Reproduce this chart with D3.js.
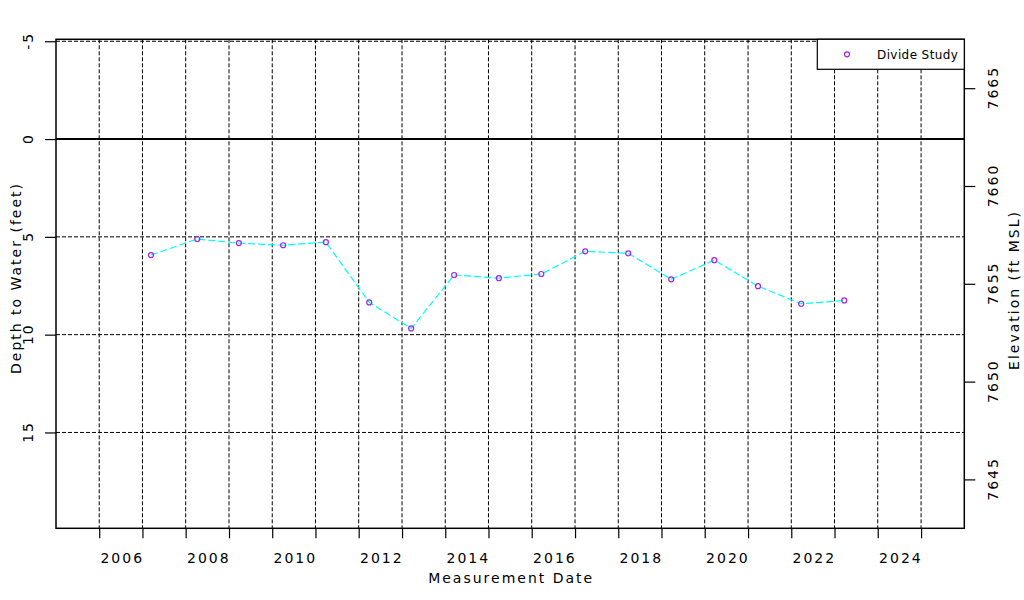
<!doctype html>
<html>
<head>
    <meta charset="utf-8">
    <style>
        body { margin: 0; background: #fff; }
        svg text {
            font-family: "DejaVu Sans", sans-serif;
            font-size: 14px;
            letter-spacing: 2px;
            fill: #000;
        }
        .grid line {
            stroke: #000;
            stroke-width: 1;
            stroke-dasharray: 4,2;
        }
        .axis path { display: none; }
        .axis line { stroke: #000; stroke-width: 1.2; }
    </style>
    <script src="https://d3js.org/d3.v7.min.js"></script>
</head>
<body>
<svg width="1024" height="600"></svg>
<script>

    var sampleDates = ["2007-03-14", "2008-04-08", "2009-03-25", "2010-04-03", "2011-03-30",
                       "2012-03-30", "2013-03-19", "2014-03-17", "2015-03-30", "2016-03-22",
                       "2017-03-28", "2018-03-26", "2019-03-24", "2020-03-22", "2021-03-26",
                       "2022-03-26", "2023-03-24"];
    var depthToWater = [5.93, 5.11, 5.32, 5.43, 5.27, 8.35, 9.68, 6.95, 7.11, 6.90,
                        5.74, 5.84, 7.17, 6.19, 7.52, 8.42, 8.25];
    var depthTicks = [-5, 0, 5, 10, 15];
    var gridDepths = [-5, 5, 10, 15];
    var elevTicks = [7645, 7650, 7655, 7660, 7665];
    var yearLabels = [2006, 2008, 2010, 2012, 2014, 2016, 2018, 2020, 2022, 2024];
    var gridYears = d3.range(2006, 2026);
    var landSurface = 7662.4;
    var seriesName = "Divide Study";

    var svg = d3.select("svg"),
        plotLeft = 56, plotRight = 964.3,
        plotTop = 39.3, plotBottom = 528.3;

    var x = d3.scaleTime()
              .domain([new Date(2005, 0, 1), new Date(2026, 0, 1)])
              .range([plotLeft, plotRight]);
    var y = d3.scaleLinear().domain([-5.1, 19.9]).range([plotTop, plotBottom]);
    var yElev = d3.scaleLinear()
                  .domain([landSurface + 5.1, landSurface - 19.9])
                  .range([plotTop, plotBottom]);

    var parse = d3.timeParse("%Y-%m-%d");
    var data = sampleDates.map(function(d, i) {
        return { date: parse(d), depth: depthToWater[i] };
    });

    // grid
    var grid = svg.append("g").attr("class", "grid");
    grid.selectAll(".vx")
        .data(gridYears)
        .enter().append("line")
        .attr("x1", function(d) { return x(new Date(d, 0, 1)); })
        .attr("x2", function(d) { return x(new Date(d, 0, 1)); })
        .attr("y1", plotTop)
        .attr("y2", plotBottom);
    grid.selectAll(".hy")
        .data(gridDepths)
        .enter().append("line")
        .attr("x1", plotLeft)
        .attr("x2", plotRight)
        .attr("y1", function(d) { return y(d); })
        .attr("y2", function(d) { return y(d); });

    // zero line
    svg.append("line")
       .attr("x1", plotLeft).attr("x2", plotRight)
       .attr("y1", y(0)).attr("y2", y(0))
       .attr("stroke", "#000")
       .attr("stroke-width", 2);

    // series
    var line = d3.line()
                 .x(function(d) { return x(d.date); })
                 .y(function(d) { return y(d.depth); });

    svg.append("path")
       .datum(data)
       .attr("d", line)
       .attr("fill", "none")
       .attr("stroke", "#00ffff")
       .attr("stroke-width", 1.2)
       .attr("stroke-dasharray", "7,3");

    svg.selectAll(".pt")
       .data(data)
       .enter().append("circle")
       .attr("cx", function(d) { return x(d.date); })
       .attr("cy", function(d) { return y(d.depth); })
       .attr("r", 2.5)
       .attr("fill", "none")
       .attr("stroke", "#a020f0")
       .attr("stroke-width", 1.2);

    // box
    svg.append("rect")
       .attr("x", plotLeft).attr("y", plotTop)
       .attr("width", plotRight - plotLeft).attr("height", plotBottom - plotTop)
       .attr("fill", "none")
       .attr("stroke", "#000")
       .attr("stroke-width", 1.5);

    // left axis
    var gl = svg.append("g")
                .attr("class", "axis")
                .attr("transform", "translate(" + plotLeft + ",0)")
                .call(d3.axisLeft(y).tickValues(depthTicks).tickSize(11)
                        .tickFormat(function(d) { return d < 0 ? "-" + (-d) : d; }));
    gl.selectAll("text")
      .attr("transform", "rotate(-90)")
      .attr("text-anchor", "middle")
      .attr("x", 1)
      .attr("y", -22.7)
      .attr("dy", 0);

    // right axis
    var gr = svg.append("g")
                .attr("class", "axis")
                .attr("transform", "translate(" + plotRight + ",0)")
                .call(d3.axisRight(yElev).tickValues(elevTicks).tickSize(11)
                        .tickFormat(function(d) { return d; }));
    gr.selectAll("text")
      .attr("transform", "rotate(-90)")
      .attr("text-anchor", "middle")
      .attr("x", 1)
      .attr("y", 33.5)
      .attr("dy", 0);

    // bottom axis: ticks at year starts, labels at mid-year
    svg.append("g")
       .attr("class", "axis")
       .attr("transform", "translate(0," + plotBottom + ")")
       .call(d3.axisBottom(x)
               .tickValues(gridYears.map(function(d) { return new Date(d, 0, 1); }))
               .tickSize(10)
               .tickFormat(""));

    var gb = svg.append("g")
                .attr("class", "axis")
                .attr("transform", "translate(0," + plotBottom + ")")
                .call(d3.axisBottom(x)
                        .tickValues(yearLabels.map(function(d) { return new Date(d, 6, 2); }))
                        .tickSize(0)
                        .tickFormat(d3.timeFormat("%Y")));
    gb.selectAll("line").remove();
    gb.selectAll("text")
      .attr("y", 35)
      .attr("dy", 0)
      .attr("dx", 1);

    // strip the axis group font attributes so the css applies
    svg.selectAll(".axis").attr("font-size", null).attr("font-family", null);

    // axis titles
    svg.append("text")
       .attr("x", (plotLeft + plotRight) / 2 + 1)
       .attr("y", 583)
       .attr("text-anchor", "middle")
       .text("Measurement Date");

    svg.append("text")
       .attr("transform", "translate(21,278) rotate(-90)")
       .attr("text-anchor", "middle")
       .text("Depth to Water (feet)");

    svg.append("text")
       .attr("transform", "translate(1018.5,290) rotate(-90)")
       .attr("text-anchor", "middle")
       .text("Elevation (ft MSL)");

    // legend
    var lg = svg.append("g");
    lg.append("rect")
      .attr("x", 817.3).attr("y", plotTop)
      .attr("width", plotRight - 817.3).attr("height", 30)
      .attr("fill", "#fff")
      .attr("stroke", "#000")
      .attr("stroke-width", 1.2);
    lg.append("circle")
      .attr("cx", 847).attr("cy", 54.3)
      .attr("r", 2.5)
      .attr("fill", "none")
      .attr("stroke", "#a020f0")
      .attr("stroke-width", 1.2);
    lg.append("text")
      .attr("x", 877)
      .attr("y", 58.5)
      .style("font-size", "12px")
      .style("letter-spacing", "0.4px")
      .text(seriesName);
</script>
</body>
</html>
